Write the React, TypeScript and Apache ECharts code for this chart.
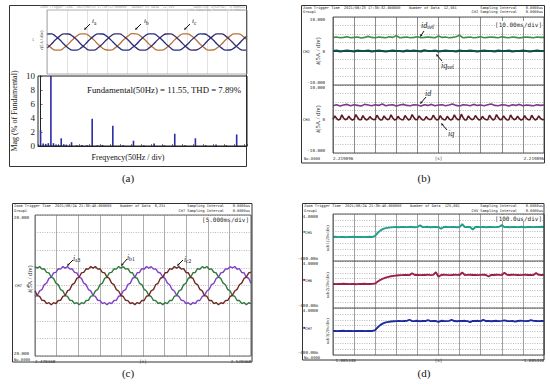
import React, { useEffect, useRef } from "react";
import * as echarts from "echarts";

// ---------- (a) three-phase currents (A), 48 samples over 10 divisions ----------
const A_IA = [
  -3.0, -8.1, -11.1, -11.2, -8.0, -2.9, 3.1, 8.2, 11.3, 11.2, 8.0, 2.9,
  -3.1, -8.2, -11.0, -11.1, -8.1, -3.0, 3.0, 8.1, 11.4, 11.3, 8.1, 3.0,
  -2.9, -8.0, -11.2, -11.1, -8.2, -3.1, 2.9, 8.0, 11.2, 11.3, 8.2, 3.1,
  -3.0, -8.1, -11.1, -11.0, -8.0, -3.0, 3.0, 8.1, 11.3, 11.2, 8.1, 3.0,
];
const A_IB = [
  11.0, 11.1, 8.0, 3.0, -3.1, -8.2, -11.2, -11.1, -8.1, -2.9, 3.1, 8.1,
  11.1, 11.0, 8.1, 2.9, -3.0, -8.1, -11.1, -11.2, -8.0, -3.0, 3.0, 8.2,
  11.2, 11.1, 8.0, 3.1, -2.9, -8.0, -11.2, -11.1, -8.2, -3.1, 2.9, 8.0,
  11.1, 11.0, 8.1, 3.0, -3.0, -8.1, -11.1, -11.0, -8.1, -3.0, 3.1, 8.1,
];
const A_IC = [
  -8.1, -3.0, 3.0, 8.1, 11.1, 11.0, 8.1, 3.0, -3.1, -8.0, -11.1, -11.2,
  -8.0, -2.9, 3.1, 8.2, 11.2, 11.1, 8.0, 3.0, -3.0, -8.1, -11.2, -11.1,
  -8.1, -3.1, 2.9, 8.0, 11.0, 11.1, 8.2, 3.1, -2.9, -8.1, -11.1, -11.0,
  -8.2, -3.0, 3.0, 8.1, 11.1, 11.2, 8.1, 2.9, -3.0, -8.2, -11.1, -11.1,
];

// ---------- (a) harmonic spectrum ----------
const FFT_ORDER = [0, 0.25, 0.5, 0.75, 1, 1.25, 1.5, 1.75, 2, 2.25, 2.5, 3, 3.5, 4, 4.5, 5, 5.5, 6, 7, 8, 9, 10, 11, 12, 13, 14, 15, 16, 17, 18, 19];
const FFT_MAG = [2.3, 0.35, 0.3, 0.4, 10, 0.4, 0.2, 0.15, 1.1, 0.25, 0.2, 0.55, 0.1, 0.15, 0.1, 3.9, 0.1, 0.15, 2.9, 0.1, 0.75, 0.1, 0.35, 0.1, 1.75, 0.1, 1.1, 0.1, 0.2, 0.1, 1.65];

// ---------- (b) dq currents (A) ----------
const B_IDREF = [4.0, 4.1, 3.9, 4.0, 4.2, 3.9, 4.0, 4.1, 3.8, 4.0, 4.3, 4.0, 3.9, 4.1, 4.0, 3.9, 4.2, 4.0, 4.5, 3.9, 4.0, 4.1, 3.9, 4.0, 4.2, 3.9, 4.0, 4.1, 4.0, 3.9, 4.4, 4.0, 4.1, 3.9, 4.0, 4.2, 4.6, 3.9, 4.0, 4.1, 3.9, 4.0, 4.2, 3.9, 4.0, 4.1, 4.0, 3.9, 4.2, 4.0, 3.9, 4.1, 4.0, 3.8, 4.0, 4.1, 4.0, 3.9, 4.1, 4.0, 4.0];
const B_IQREF = [0.0, 0.1, -0.1, 0.0, 0.1, 0.0, -0.1, 0.1, 0.0, 0.0, 0.1, -0.1, 0.0, 0.1, 0.0, -0.1, 0.0, 0.1, 0.0, 0.0, -0.1, 0.1, 0.0, 0.1, 0.0, -0.1, 0.2, 0.0, 0.0, 0.1, -0.1, 0.0, 0.1, 0.0, 0.0, -0.1, 0.1, 0.0, 0.0, 0.1, 0.0, -0.1, 0.0, 0.1, 0.0, 0.0, -0.1, 0.1, 0.0, 0.0, 0.1, -0.1, 0.0, 0.0, 0.1, 0.0, -0.1, 0.0, 0.1, 0.0, 0.0];
const B_ID = [3.9, 4.2, 3.8, 4.1, 4.3, 3.9, 4.2, 4.0, 3.8, 4.3, 4.1, 3.9, 4.2, 4.0, 4.4, 3.9, 4.1, 4.2, 3.8, 4.1, 4.3, 4.0, 3.9, 4.2, 4.1, 3.8, 4.2, 4.0, 4.3, 3.9, 4.1, 4.2, 3.9, 4.1, 4.4, 4.0, 3.8, 4.2, 4.1, 3.9, 4.3, 4.0, 4.1, 3.9, 4.2, 4.4, 4.0, 3.9, 4.2, 4.1, 3.8, 4.2, 4.0, 4.3, 3.9, 4.1, 4.0, 3.9, 4.2, 4.0, 4.1];
const B_IQ = [
  -0.1, 0.9, 0.2, -0.3, -0.1, 1.2, 0.3, -0.2, 0.0, 0.8, 0.1, -0.3, -0.1, 1.3, 0.4, -0.2,
  -0.2, 1.0, 0.2, -0.3, 0.0, 0.7, 0.1, -0.2, -0.1, 1.1, 0.3, -0.3, -0.2, 0.9, 0.2, -0.2,
  0.0, 1.2, 0.3, -0.3, -0.1, 0.8, 0.1, -0.2, -0.2, 1.0, 0.3, -0.3, 0.0, 1.3, 0.4, -0.2,
  -0.1, 0.9, 0.2, -0.3, -0.2, 0.7, 0.1, -0.2, 0.0, 1.1, 0.3, -0.3, -0.1, 1.0, 0.2, -0.2,
  -0.2, 0.8, 0.1, -0.3, 0.0, 1.2, 0.3, -0.2, -0.1, 1.4, 0.4, -0.3, -0.2, 0.9, 0.2, -0.2,
  0.0, 1.0, 0.3, -0.3, -0.1, 0.8, 0.1, -0.2, -0.2, 1.1, 0.3, -0.3, 0.0, 1.3, 0.4, -0.2,
  -0.1, 0.9, 0.2, -0.3, -0.2, 1.2, 0.3, -0.2, 0.0, 0.8, 0.1, -0.3, -0.1, 1.0, 0.2, -0.2,
  -0.2, 1.1, 0.3, -0.3, 0.0, 0.9, 0.2, -0.2, -0.1,
];

// ---------- (c) three-phase currents with ripple (A), 94 samples ----------
const C_IA3 = [
  -3.09, -2.85, -1.53, -1.15, 0.25, 0.65, 2.03, 2.35, 3.59, 3.73, 4.75, 4.64, 5.37, 4.95, 5.37, 4.64, 4.75, 3.73, 3.59, 2.35, 2.03, 0.65, 0.25, -1.15, -1.53, -2.85, -3.09, -4.23, -4.25, -5.14, -4.87, -5.45, -4.87, -5.14, -4.25, -4.23,
  -3.05, -2.90, -1.50, -1.20, 0.30, 0.60, 2.05, 2.30, 3.62, 3.70, 4.80, 4.60, 5.40, 4.92, 5.35, 4.66, 4.72, 3.75, 3.55, 2.38, 2.00, 0.68, 0.22, -1.12, -1.55, -2.82, -3.12, -4.20, -4.28, -5.10, -4.90, -5.42, -4.85, -5.16, -4.22, -4.26,
  -3.12, -2.82, -1.56, -1.12, 0.28, 0.62, 2.00, 2.38, 3.56, 3.76, 4.72, 4.68, 5.34, 4.98, 5.39, 4.62, 4.78, 3.70, 3.62, 2.32, 2.06, 0.62,
];
const C_IB1 = [
  5.37, 4.95, 5.37, 4.64, 4.75, 3.73, 3.59, 2.35, 2.03, 0.65, 0.25, -1.15, -1.53, -2.85, -3.09, -4.23, -4.25, -5.14, -4.87, -5.45, -4.87, -5.14, -4.25, -4.23, -3.09, -2.85, -1.53, -1.15, 0.25, 0.65, 2.03, 2.35, 3.59, 3.73, 4.75, 4.64,
  5.40, 4.92, 5.34, 4.66, 4.78, 3.70, 3.62, 2.32, 2.06, 0.62, 0.28, -1.12, -1.56, -2.82, -3.12, -4.20, -4.28, -5.10, -4.90, -5.42, -4.84, -5.17, -4.22, -4.26, -3.06, -2.88, -1.50, -1.18, 0.28, 0.62, 2.06, 2.32, 3.62, 3.70, 4.78, 4.60,
  5.35, 4.97, 5.39, 4.62, 4.73, 3.76, 3.56, 2.38, 2.00, 0.68, 0.22, -1.18, -1.50, -2.88, -3.06, -4.26, -4.22, -5.16, -4.84, -5.48, -4.90, -5.12,
];
const C_IC2 = [
  -1.53, -2.85, -3.09, -4.23, -4.25, -5.14, -4.87, -5.45, -4.87, -5.14, -4.25, -4.23, -3.09, -2.85, -1.53, -1.15, 0.25, 0.65, 2.03, 2.35, 3.59, 3.73, 4.75, 4.64, 5.37, 4.95, 5.37, 4.64, 4.75, 3.73, 3.59, 2.35, 2.03, 0.65, 0.25, -1.15,
  -1.56, -2.82, -3.12, -4.20, -4.28, -5.10, -4.90, -5.42, -4.84, -5.17, -4.22, -4.26, -3.06, -2.88, -1.50, -1.18, 0.28, 0.62, 2.06, 2.32, 3.62, 3.70, 4.78, 4.60, 5.40, 4.92, 5.34, 4.66, 4.78, 3.70, 3.62, 2.32, 2.06, 0.62, 0.28, -1.12,
  -1.50, -2.88, -3.06, -4.26, -4.22, -5.16, -4.84, -5.48, -4.90, -5.12, -4.28, -4.20, -3.12, -2.82, -1.56, -1.12, 0.22, 0.68, 2.00, 2.38, 3.56, 3.76,
];

// ---------- (d) dc-link voltages, 81 samples ----------
const D_U1 = [
  1.85, 1.87, 1.84, 1.86, 1.85, 1.83, 1.86, 1.85, 1.87, 1.84, 1.85, 1.86, 1.84, 1.85, 1.87, 1.85,
  1.95, 2.25, 2.47, 2.60, 2.68, 2.72, 2.75, 2.77, 2.78, 2.76, 2.79, 2.78,
  2.77, 2.80, 2.78, 2.76, 2.79, 2.95, 2.77, 2.78, 2.80, 2.76, 2.78, 2.79, 2.77, 2.62, 2.78, 2.80, 2.77, 2.78, 2.79, 2.76, 2.78, 3.05, 2.77, 2.79, 2.78, 2.55, 2.78, 2.80, 2.77, 2.79, 2.76, 2.78, 2.79, 2.77, 2.78, 2.80, 2.96, 2.77, 2.78, 2.76, 2.79, 2.78, 2.77, 2.80, 2.78, 2.76, 2.79, 2.78, 2.77, 2.79, 2.78, 2.80, 2.78,
];
const D_U2 = [
  1.85, 1.84, 1.86, 1.85, 1.87, 1.85, 1.84, 1.86, 1.85, 1.83, 1.86, 1.85, 1.87, 1.84, 1.85, 1.86,
  1.90, 2.08, 2.24, 2.36, 2.45, 2.52, 2.57, 2.61, 2.64, 2.66, 2.68, 2.69,
  2.70, 2.68, 2.85, 2.69, 2.71, 2.68, 2.70, 2.69, 2.72, 2.68, 2.70, 2.95, 2.52, 2.69, 2.71, 2.70, 2.68, 2.69, 2.71, 2.70, 2.69, 2.92, 2.68, 2.70, 2.71, 2.69, 2.70, 2.68, 2.70, 2.71, 2.69, 2.55, 2.70, 2.69, 2.71, 2.70, 2.68, 2.90, 2.70, 2.69, 2.71, 2.70, 2.69, 2.68, 2.70, 2.71, 2.69, 2.70, 2.68, 2.87, 2.70, 2.69, 2.70,
];
const D_U3 = [
  1.85, 1.86, 1.84, 1.85, 1.87, 1.84, 1.85, 1.86, 1.84, 1.85, 1.86, 1.85, 1.84, 1.86, 1.85, 1.85,
  1.93, 2.20, 2.42, 2.56, 2.65, 2.70, 2.74, 2.76, 2.77, 2.79, 2.77, 2.78,
  2.79, 2.90, 2.77, 2.78, 2.80, 2.76, 2.79, 2.78, 2.86, 2.77, 2.79, 2.78, 2.70, 2.80, 2.78, 2.77, 2.79, 2.88, 2.78, 2.76, 2.79, 2.78, 2.80, 2.77, 2.68, 2.79, 2.78, 2.80, 2.77, 2.89, 2.78, 2.79, 2.76, 2.78, 2.80, 2.77, 2.79, 2.84, 2.78, 2.77, 2.79, 2.72, 2.78, 2.80, 2.79, 2.77, 2.78, 2.86, 2.79, 2.78, 2.77, 2.79, 2.78,
];

// ---------- tick labels ----------
const B_Y_TICKS = [10, 0, -10];
const B_Y_TEXT = ["10.000", "0", "-10.000"];
const C_Y_TICKS = [20, 0, -20];
const C_Y_TEXT = ["20.000", "0", "-20.000"];
const D_Y_TICKS = [4, -0.4];
const D_Y_TEXT = ["4.0000", "-400.00m"];
const X_TICKS = [0, 5, 10];
const B_X_TEXT = ["2.219096", "[s]", "2.219096"];
const C_X_TEXT = ["2.470368", "[s]", "2.520368"];
const D_X_TEXT = ["-1.005440", "[s]", "-1.005440"];

const SERIF = "'Liberation Serif', 'DejaVu Serif', serif";
const MONO = "'DejaVu Sans Mono', 'Liberation Mono', monospace";

const pairs = (vals: number[], span: number) => vals.map((v, i) => [(i * span) / (vals.length - 1), v]);
const pick = (ticks: number[], texts: string[], v: number) => {
  const i = ticks.findIndex((t) => Math.abs(t - v) < 1e-6);
  return i >= 0 ? texts[i] : "";
};

function txt(x: number, y: number, text: string, o: any = {}) {
  return {
    type: "text",
    x,
    y,
    rotation: o.rotation || 0,
    silent: true,
    z: 20,
    style: {
      text,
      fill: o.fill || "#222",
      fontSize: o.size || 4,
      fontFamily: o.family || MONO,
      fontStyle: o.italic ? "italic" : "normal",
      align: o.align || "left",
      verticalAlign: o.va || "middle",
      backgroundColor: o.bg,
      rich: o.rich,
    },
  };
}
function rect(x: number, y: number, w: number, h: number, stroke: string, lw = 1) {
  return { type: "rect", silent: true, z: 15, shape: { x, y, width: w, height: h }, style: { fill: "none", stroke, lineWidth: lw } };
}
function hline(x1: number, x2: number, y: number, stroke: string, lw = 1) {
  return { type: "line", silent: true, z: 15, shape: { x1, y1: y, x2, y2: y }, style: { stroke, lineWidth: lw } };
}
function arrow(x1: number, y1: number, x2: number, y2: number) {
  const a = Math.atan2(y2 - y1, x2 - x1);
  const L = 2.6, W = 1.3;
  const bx = x2 - L * Math.cos(a), by = y2 - L * Math.sin(a);
  const px = -Math.sin(a) * W, py = Math.cos(a) * W;
  return [
    { type: "line", silent: true, z: 20, shape: { x1, y1, x2: bx, y2: by }, style: { stroke: "#111", lineWidth: 1 } },
    { type: "polygon", silent: true, z: 20, shape: { points: [[x2, y2], [bx + px, by + py], [bx - px, by - py]] }, style: { fill: "#111" } },
  ];
}
function subLabel(x: number, y: number, main: string, sub: string, size: number) {
  return txt(x, y, `{m|${main}}{s|${sub}}`, {
    rich: {
      m: { fontSize: size, fontFamily: SERIF, fill: "#111", fontStyle: "italic" },
      s: { fontSize: size * 0.75, fontFamily: SERIF, fill: "#111", padding: [size * 0.45, 0, 0, 0] },
    },
  });
}

function scopeX(gi: number, color: string, texts: string[] | null) {
  return {
    type: "value", gridIndex: gi, min: 0, max: 10, interval: 1,
    axisLine: { show: false }, axisTick: { show: false },
    splitLine: { show: true, lineStyle: { color, width: 0.8 } },
    axisLabel: texts
      ? { show: true, fontSize: 4.2, fontFamily: MONO, color: "#222", margin: 3, alignMinLabel: "left", alignMaxLabel: "right",
          formatter: (v: number) => pick(X_TICKS, texts, v) }
      : { show: false },
  };
}
function scopeY(gi: number, min: number, max: number, interval: number, ticks: number[], texts: string[], margin: number) {
  return {
    type: "value", gridIndex: gi, min, max, interval,
    axisLine: { show: false }, axisTick: { show: false },
    splitLine: { show: true, lineStyle: { color: "#8a8a8a", width: 0.6, type: [1, 1.4] } },
    axisLabel: {
      show: true, fontSize: 4.2, fontFamily: MONO, color: "#222", margin,
      formatter: (v: number) => {
        const s = pick(ticks, texts, v);
        if (!s) return "";
        if (Math.abs(v - max) < 1e-6) return `{hi|${s}}`;
        if (Math.abs(v - min) < 1e-6) return `{lo|${s}}`;
        return s;
      },
      rich: {
        hi: { fontSize: 4.2, fontFamily: MONO, color: "#222", padding: [5, 0, 0, 0] },
        lo: { fontSize: 4.2, fontFamily: MONO, color: "#222", padding: [0, 0, 5, 0] },
      },
    },
  };
}

function line(ai: number, data: any[], color: string, width: number, smooth = false) {
  return { type: "line", xAxisIndex: ai, yAxisIndex: ai, data, symbol: "none", showSymbol: false, smooth, silent: true,
    lineStyle: { color, width }, itemStyle: { color } };
}

function buildOption() {
  const grid = [
    { left: 47, top: 10, width: 200, height: 64 },
    { left: 38, top: 76, width: 209, height: 70 },
    { left: 333, top: 17, width: 211, height: 68 },
    { left: 333, top: 85, width: 211, height: 68 },
    { left: 35, top: 215, width: 216, height: 141 },
    { left: 333, top: 214, width: 211, height: 47 },
    { left: 333, top: 261, width: 211, height: 47 },
    { left: 333, top: 308, width: 211, height: 47 },
  ].map((g) => ({ ...g, containLabel: false, outerBoundsMode: "none" }));

  const xAxis = [
    { type: "value", gridIndex: 0, min: 0, max: 10, interval: 1, axisLine: { show: false }, axisTick: { show: false }, axisLabel: { show: false },
      splitLine: { show: true, lineStyle: { color: "#cfcfcf", width: 0.6 } } },
    { type: "value", gridIndex: 1, min: -0.25, max: 20, interval: 1, axisLine: { show: true, lineStyle: { color: "#222", width: 1 } },
      axisTick: { show: true, inside: true, length: 2, lineStyle: { color: "#222", width: 0.6 } }, axisLabel: { show: false }, splitLine: { show: false } },
    scopeX(2, "#6e6e6e", null),
    scopeX(3, "#6e6e6e", B_X_TEXT),
    scopeX(4, "#9a9a9a", C_X_TEXT),
    scopeX(5, "#8a8a8a", null),
    scopeX(6, "#8a8a8a", null),
    scopeX(7, "#8a8a8a", D_X_TEXT),
  ];
  const yAxis = [
    { type: "value", gridIndex: 0, min: -44, max: 44, show: false },
    { type: "value", gridIndex: 1, min: 0, max: 10, interval: 2, axisLine: { show: true, lineStyle: { color: "#222", width: 1 } },
      axisTick: { show: true, inside: true, length: 2, lineStyle: { color: "#222", width: 0.6 } }, splitLine: { show: false },
      axisLabel: { fontFamily: SERIF, fontSize: 9, color: "#222", margin: 3 } },
    scopeY(2, -10, 10, 2.5, B_Y_TICKS, B_Y_TEXT, 8),
    scopeY(3, -10, 10, 2.5, B_Y_TICKS, B_Y_TEXT, 8),
    scopeY(4, -20, 20, 5, C_Y_TICKS, C_Y_TEXT, 6),
    scopeY(5, -0.4, 4, 0.55, D_Y_TICKS, D_Y_TEXT, 15),
    scopeY(6, -0.4, 4, 0.55, D_Y_TICKS, D_Y_TEXT, 15),
    scopeY(7, -0.4, 4, 0.55, D_Y_TICKS, D_Y_TEXT, 15),
  ];

  const series: any[] = [
    line(0, pairs(A_IA, 10), "#b8743c", 1.3, true),
    line(0, pairs(A_IB, 10), "#27307a", 1.3, true),
    line(0, pairs(A_IC, 10), "#3b2d6c", 1.3, true),
    { type: "bar", xAxisIndex: 1, yAxisIndex: 1, data: FFT_ORDER.map((o, i) => [o, FFT_MAG[i]]), barWidth: 1.6, silent: true,
      itemStyle: { color: "#2c2ca6" } },
    line(2, pairs(B_IDREF, 10), "#3f8f43", 1.6),
    line(2, pairs(B_IQREF, 10), "#0d4f49", 2.2),
    line(3, pairs(B_ID, 10), "#7b3a86", 1.6),
    line(3, pairs(B_IQ, 10), "#5a1a22", 1.6),
    line(4, pairs(C_IA3, 10), "#8040c8", 1.4),
    line(4, pairs(C_IB1, 10), "#2f7a3c", 1.4),
    line(4, pairs(C_IC2, 10), "#6e2a22", 1.4),
    line(5, pairs(D_U1, 10), "#1e9e8e", 1.9),
    line(6, pairs(D_U2, 10), "#9c1f4a", 1.9),
    line(7, pairs(D_U3, 10), "#1d2ba0", 1.9),
  ];

  const it = (s: string) => `{it|i}${s}`;
  const itRich = (size: number) => ({ it: { fontStyle: "italic", fontFamily: SERIF, fontSize: size, fill: "#222" } });

  const g: any[] = [
    // ---- frames ----
    rect(9.5, 5.5, 237, 161, "#333", 1),
    rect(47, 10, 200, 64, "#9a9a9a", 0.8),
    rect(38, 76, 209, 70, "#222", 1),
    rect(301.5, 5.5, 243, 157.5, "#333", 1),
    rect(333, 17, 211, 136, "#444", 0.9),
    hline(333, 544, 85, "#444", 0.9),
    rect(12.5, 203.5, 239.5, 158.5, "#333", 1),
    rect(35, 215, 216, 141, "#555", 0.9),
    rect(302.5, 203.5, 241.5, 156.5, "#333", 1),
    rect(333, 214, 211, 141, "#444", 0.9),
    hline(333, 544, 261, "#444", 0.9),
    hline(333, 544, 308, "#444", 0.9),

    // ---- (a) ----
    txt(40, 6.5, "Zoom Trigger Time  2021/08/23 17:30:32.000000   Number of Data  12,501", { size: 3.2, fill: "#9a9a9a" }),
    txt(245, 6.5, "Sampling Interval  8.0000us", { size: 3.2, fill: "#9a9a9a", align: "right" }),
    txt(245, 9.5, "CH1 Sampling Interval  8.0000us", { size: 3, fill: "#aaa", align: "right" }),
    txt(41, 40, it("(5A / div)"), { rotation: Math.PI / 2, align: "center", size: 4.6, family: SERIF, rich: itRich(4.6) }),
    txt(32, 40, "1", { size: 3.5, fill: "#555" }),
    subLabel(92, 21, "i", "a", 7),
    subLabel(144, 21, "i", "b", 7),
    subLabel(192, 21, "i", "c", 7),
    ...arrow(90, 24, 84, 30),
    ...arrow(141, 24, 135, 30),
    ...arrow(190, 24, 184, 30),
    txt(14, 111, "Mag (% of Fundamental)", { rotation: Math.PI / 2, align: "center", size: 8, family: SERIF }),
    txt(87, 90, "Fundamental(50Hz) = 11.55, THD = 7.89%", { size: 8.8, family: SERIF, fill: "#111" }),
    txt(128, 157, "Freqyency(50Hz / div)", { size: 8, family: SERIF, align: "center", fill: "#111" }),

    // ---- (b) ----
    txt(303, 7.5, "Zoom Trigger Time  2021/08/23 17:30:32.000000    Number of Data  12,501", { size: 3.6 }),
    txt(543, 7.5, "Sampling Interval    8.0000us", { size: 3.6, align: "right" }),
    txt(303, 11.5, "Group1", { size: 3.6 }),
    txt(543, 11.5, "CH2 Sampling Interval    8.0000us", { size: 3.6, align: "right" }),
    txt(542, 24, "[10.00ms/div]", { size: 6, align: "right", bg: "#fff" }),
    txt(303, 51, "CH2", { size: 3.8 }),
    txt(303, 119, "CH3", { size: 3.8 }),
    txt(317, 51, it("(5A / div)"), { rotation: Math.PI / 2, align: "center", size: 6.5, family: SERIF, rich: itRich(6.5) }),
    txt(317, 119, it("(5A / div)"), { rotation: Math.PI / 2, align: "center", size: 6.5, family: SERIF, rich: itRich(6.5) }),
    txt(304, 158, "No.0000", { size: 3.8 }),
    subLabel(421, 25, "id", "ref", 8),
    ...arrow(424, 31, 420, 37),
    subLabel(441, 65, "iq", "ref", 8),
    ...arrow(442, 61, 436, 54),
    txt(425, 93, "id", { size: 8, family: SERIF, italic: true }),
    ...arrow(426, 97, 420, 104),
    txt(448, 133, "iq", { size: 8, family: SERIF, italic: true }),
    ...arrow(447, 130, 441, 123),

    // ---- (c) ----
    txt(14, 206, "Zoom Trigger Time  2021/08/24 21:30:40.000000    Number of Data  6,251", { size: 3.6 }),
    txt(250, 206, "Sampling Interval    8.0000us", { size: 3.6, align: "right" }),
    txt(14, 210.5, "Group1", { size: 3.6 }),
    txt(250, 210.5, "CH7 Sampling Interval    8.0000us", { size: 3.6, align: "right" }),
    txt(249, 219, "[5.000ms/div]", { size: 6, align: "right", bg: "#fff" }),
    txt(15, 285.5, "CH7", { size: 3.8 }),
    txt(29, 279, it("(5A / div)"), { rotation: Math.PI / 2, align: "center", size: 6.5, family: SERIF, rich: itRich(6.5) }),
    txt(14, 359, "No.0000", { size: 3.8 }),
    subLabel(73, 258, "i", "a3", 7.5),
    ...arrow(73, 260, 67, 266),
    subLabel(127, 257, "i", "b1", 7.5),
    ...arrow(127, 259, 121, 266),
    subLabel(184, 259, "i", "c2", 7.5),
    ...arrow(183, 260, 177, 266),

    // ---- (d) ----
    txt(304, 206, "Zoom Trigger Time  2021/08/24 21:30:40.000000    Number of Data  125,001", { size: 3.6 }),
    txt(543, 206, "Sampling Interval    8.0000us", { size: 3.6, align: "right" }),
    txt(304, 210.5, "Group1", { size: 3.6 }),
    txt(543, 210.5, "CH5 Sampling Interval    8.0000us", { size: 3.6, align: "right" }),
    txt(542, 218, "[100.0us/div]", { size: 6, align: "right", bg: "#fff" }),
    txt(303, 232, "{sq|■}CH5", { size: 3.8, rich: { sq: { fill: "#1e9e8e", fontSize: 3.8 } } }),
    txt(303, 280, "{sq|■}CH6", { size: 3.8, rich: { sq: { fill: "#9c1f4a", fontSize: 3.8 } } }),
    txt(303, 328, "{sq|■}CH7", { size: 3.8, rich: { sq: { fill: "#1d2ba0", fontSize: 3.8 } } }),
    txt(327, 238, "udc1(20v/div)", { rotation: Math.PI / 2, align: "center", size: 4.5, family: SERIF }),
    txt(327, 285, "udc2(20v/div)", { rotation: Math.PI / 2, align: "center", size: 4.5, family: SERIF }),
    txt(327, 331, "udc3(20v/div)", { rotation: Math.PI / 2, align: "center", size: 4.5, family: SERIF }),
    txt(304, 357.5, "No.0000", { size: 3.8 }),

    // ---- captions ----
    txt(128, 178, "(a)", { size: 11, family: SERIF, align: "center", fill: "#111" }),
    txt(424, 178, "(b)", { size: 11, family: SERIF, align: "center", fill: "#111" }),
    txt(128, 373, "(c)", { size: 11, family: SERIF, align: "center", fill: "#111" }),
    txt(424, 373, "(d)", { size: 11, family: SERIF, align: "center", fill: "#111" }),
  ];

  return {
    animation: false,
    backgroundColor: "#ffffff",
    grid,
    xAxis,
    yAxis,
    series,
    graphic: { elements: g },
  };
}

export default function App() {
  const ref = useRef<HTMLDivElement>(null);
  useEffect(() => {
    if (!ref.current) return;
    const chart = echarts.init(ref.current, null, { renderer: "svg" });
    chart.setOption(buildOption() as any);
    return () => chart.dispose();
  }, []);
  return <div ref={ref} style={{ position: "absolute", left: 0, top: 0, width: 550, height: 387, background: "#fff" }} />;
}
